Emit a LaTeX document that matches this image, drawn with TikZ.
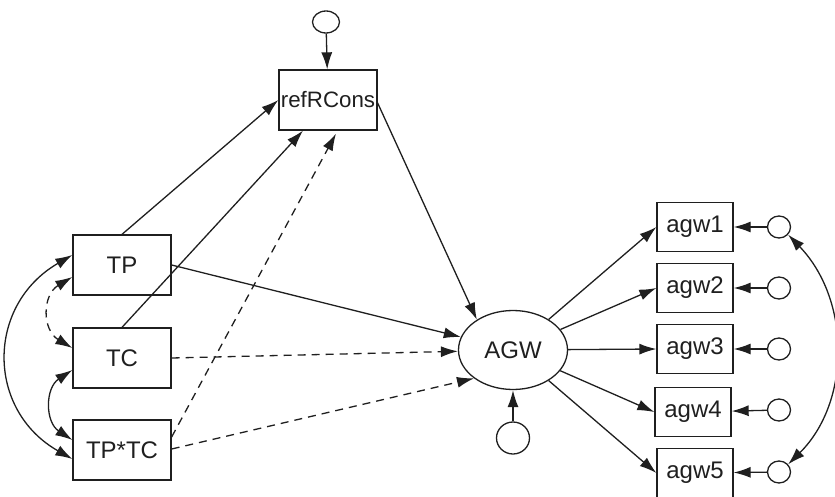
\documentclass[tikz,border=0pt]{standalone}
\usepackage{fontspec}
\setmainfont{Liberation Sans}
\usetikzlibrary{arrows.meta,calc,shapes.geometric}
\begin{document}
\begin{tikzpicture}[x=1pt,y=-1pt,
  line width=1.3pt, draw=black!88,
  every node/.style={font=\fontsize{24}{26}\selectfont, text=black!88},
  obs/.style={draw, rectangle, minimum width=98pt, minimum height=60pt, inner sep=0pt},
  ind/.style={draw, rectangle, minimum width=76pt, minimum height=49pt, inner sep=0pt},
  err/.style={draw, ellipse, inner sep=0pt},
  arr/.style={-{Latex[length=17pt,width=11pt]}},
  darr/.style={{Latex[length=17pt,width=11pt]}-{Latex[length=17pt,width=11pt]}},
  dsh/.style={dash pattern=on 8pt off 6pt}]
\useasboundingbox (0,0) rectangle (835,497);
\node[obs] (TP) at (122,265) {TP};
\node[obs] (TC) at (122,358) {TC};
\node[obs] (TPTC) at (122,450) {TP*TC};
\node[obs, font=\fontsize{22.3}{26}\selectfont] (ref) at (328,100) {refRCons};
\node[err, minimum width=27pt, minimum height=22pt] (e0) at (326,22) {};
\node[draw, ellipse, minimum width=109pt, minimum height=79pt, inner sep=0pt] (AGW) at (513,350) {AGW};
\node[err, minimum width=33pt, minimum height=32pt] (eA) at (513,438) {};
\node[ind] (a1) at (695,227) {agw1};
\node[ind] (a2) at (695,288) {agw2};
\node[ind] (a3) at (695,349) {agw3};
\node[ind] (a4) at (693,412) {agw4};
\node[ind] (a5) at (695,473) {agw5};
\foreach \i/\y in {1/227,2/288,3/349,4/410,5/472}{
  \node[err, minimum width=23pt, minimum height=22pt] (c\i) at (779,\y) {};
  \draw[arr] (c\i) -- (a\i);
}
\draw[arr] (e0) -- (ref);
\draw[arr] (TP.north) -- (ref.west);
\draw[arr] (TC.north) -- ($(ref.south)+(-25,0)$);
\draw[arr, dsh] ($(TPTC.east)+(0,-13)$) -- ($(ref.south)+(8,3)$);
\draw[arr] ($(ref.east)+(0,3)$) -- (AGW.140);
\draw[arr] (TP.east) -- (AGW);
\draw[arr, dsh] (TC.east) -- (AGW);
\draw[arr, dsh] ($(TPTC.east)+(0,-1)$) -- (AGW.216);
\draw[arr] (eA) -- (AGW);
\foreach \i in {1,...,5}{ \draw[arr] (AGW) -- (a\i.west); }
% covariances
\draw[darr] ($(TP.west)+(0,-10)$) .. controls (-14,305) and (-14,410) .. ($(TPTC.west)+(0,9)$);
\draw[darr, dsh] ($(TP.west)+(0,12)$) .. controls (42,295) and (42,330) .. ($(TC.west)+(0,-10)$);
\draw[darr] ($(TC.west)+(0,12)$) .. controls (45,388) and (45,422) .. ($(TPTC.west)+(0,-10)$);
\draw[darr] (c1.-40) .. controls (851,300) and (851,402) .. (c5.40);
\end{tikzpicture}
\end{document}
